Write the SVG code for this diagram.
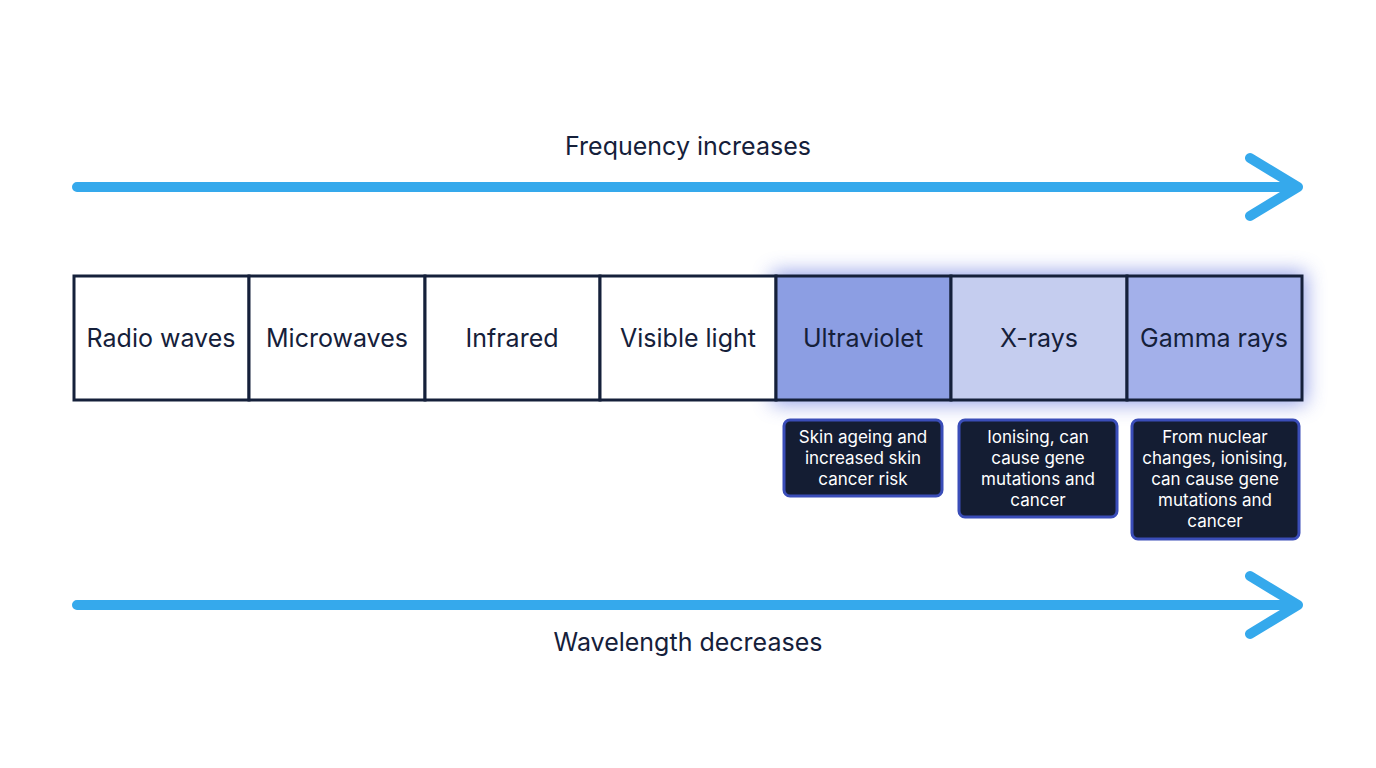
<svg xmlns="http://www.w3.org/2000/svg" width="1376" height="768" viewBox="0 0 1376 768">
<style>
.arr{stroke:#35a9ec;stroke-width:10;stroke-linecap:round;stroke-linejoin:round;fill:none}
.cell{stroke:#15203a;stroke-width:3}
.lab{font-family:Inter,"Liberation Sans",sans-serif;font-size:25px;fill:#15203a;text-anchor:middle}
.note{fill:#141d33;stroke:#3a4db8;stroke-width:3}
.nt{font-family:Inter,"Liberation Sans",sans-serif;font-size:17px;fill:#ffffff;text-anchor:middle}
</style>
<defs>
<filter id="glow" x="-20%" y="-30%" width="140%" height="160%"><feGaussianBlur stdDeviation="10"/></filter>
</defs>
<rect width="1376" height="768" fill="#ffffff"/>
<g id="connectors">
<path class="arr" d="M77 187H1298M1250 158L1298 187L1250 216"/>
<path class="arr" d="M77 605H1298M1250 576L1298 605L1250 634"/>
</g>
<text class="lab" x="688" y="155">Frequency increases</text>
<text class="lab" x="688" y="651">Wavelength decreases</text>
<rect x="772" y="272" width="534" height="132" fill="#6f80e0" opacity="0.75" filter="url(#glow)"/>
<g id="radio"><rect class="cell" x="74" y="276" width="175" height="124" fill="#fff"/><text class="lab" x="161" y="347">Radio waves</text></g>
<g id="micro"><rect class="cell" x="249" y="276" width="176" height="124" fill="#fff"/><text class="lab" x="337" y="347">Microwaves</text></g>
<g id="infrared"><rect class="cell" x="425" y="276" width="175" height="124" fill="#fff"/><text class="lab" x="512" y="347">Infrared</text></g>
<g id="visible"><rect class="cell" x="600" y="276" width="176" height="124" fill="#fff"/><text class="lab" x="688" y="347">Visible light</text></g>
<g id="uv"><rect class="cell" x="776" y="276" width="175" height="124" fill="#8c9ee3"/><text class="lab" x="863" y="347">Ultraviolet</text></g>
<g id="xray"><rect class="cell" x="951" y="276" width="176" height="124" fill="#c5cdef"/><text class="lab" x="1039" y="347">X-rays</text></g>
<g id="gamma"><rect class="cell" x="1127" y="276" width="175" height="124" fill="#a3b0ea"/><text class="lab" x="1214" y="347">Gamma rays</text></g>
<g id="uv-note"><rect class="note" x="784" y="420" width="158" height="76" rx="6"/><text class="nt" x="863" y="443">Skin ageing and</text><text class="nt" x="863" y="464">increased skin</text><text class="nt" x="863" y="485">cancer risk</text></g>
<g id="xray-note"><rect class="note" x="959" y="420" width="158" height="97" rx="6"/><text class="nt" x="1038" y="443">Ionising, can</text><text class="nt" x="1038" y="464">cause gene</text><text class="nt" x="1038" y="485">mutations and</text><text class="nt" x="1038" y="506">cancer</text></g>
<g id="gamma-note"><rect class="note" x="1132" y="420" width="167" height="119" rx="6"/><text class="nt" x="1215" y="443">From nuclear</text><text class="nt" x="1215" y="464">changes, ionising,</text><text class="nt" x="1215" y="485">can cause gene</text><text class="nt" x="1215" y="506">mutations and</text><text class="nt" x="1215" y="527">cancer</text></g>
</svg>
